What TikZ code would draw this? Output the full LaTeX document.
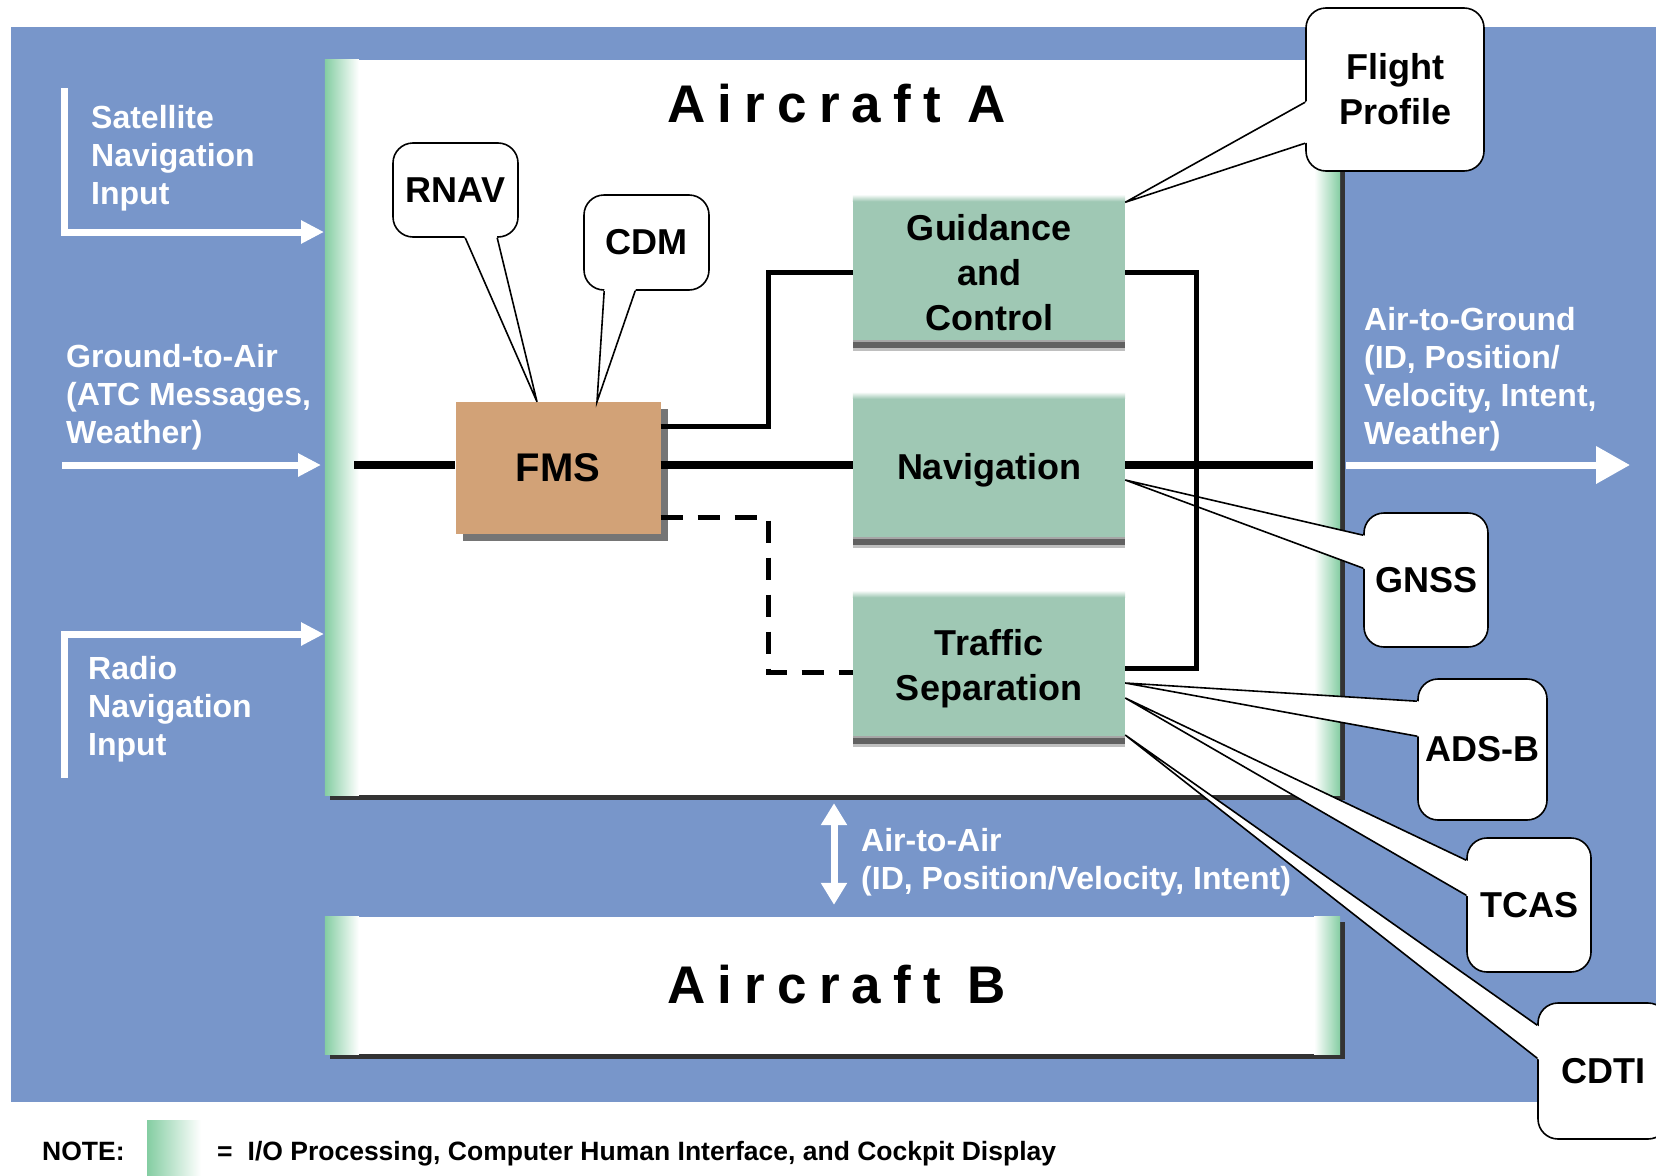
\documentclass[tikz,border=0pt]{standalone}
\usepackage{fontspec}
\setmainfont{Liberation Sans}
\newfontfamily\spacedfont{Liberation Sans}[LetterSpace=23]
\usetikzlibrary{arrows.meta,calc,shadows}

\definecolor{bgblue}{HTML}{7896CA}
\definecolor{mint}{HTML}{84CDA2}
\definecolor{sage}{HTML}{9FC8B4}
\definecolor{fmstan}{HTML}{D2A277}

% white tail of a speech bubble: base point, tip, base point
\newcommand{\calloutTail}[3]{%
  \fill[white] ($(#1)!-4pt!(#2)$) -- (#2) -- ($(#3)!-4pt!(#2)$) -- cycle;
  \draw[line width=1.6pt] (#1) -- (#2) -- (#3);}

\tikzset{
  acbox/.style={fill=white, inner sep=0,
    drop shadow={shadow xshift=5pt, shadow yshift=-5pt, fill=black!80, opacity=1}},
  actitle/.style={font=\spacedfont\bfseries\fontsize{53}{60}\selectfont, inner sep=0, anchor=base west},
  wlabel/.style={text=white, font=\bfseries\fontsize{32}{38}\selectfont, align=left, inner sep=0, anchor=north west},
  warrow/.style={white, line width=7pt, line join=miter, -{Triangle[length=23pt,width=22pt]}},
  sbox/.style={fill=sage, minimum width=272pt, minimum height=156pt, inner sep=0, align=center,
    font=\bfseries\fontsize{36}{45}\selectfont},
  fmsbox/.style={fill=fmstan, minimum width=205pt, minimum height=132pt, inner sep=0,
    font=\bfseries\fontsize{40}{48}\selectfont,
    drop shadow={shadow xshift=7pt, shadow yshift=-7pt, fill=black!60, opacity=0.9}},
  bubble/.style={draw, fill=white, line width=1.6pt, rounded corners=20pt, inner sep=0, align=center,
    font=\bfseries\fontsize{36}{45}\selectfont},
  mainbus/.style={line width=7.5pt},
  link/.style={line width=5pt, line join=miter},
  note/.style={font=\bfseries\fontsize{26.5}{30}\selectfont, inner sep=0, anchor=base west}
}

\begin{document}
\begin{tikzpicture}[x=1pt, y=-1pt]
    \useasboundingbox (0,0) rectangle (1656,1175);

    % Background
    \fill[bgblue] (11,27) rectangle (1656,1102);

    % Aircraft
    \node[acbox, minimum width=1015pt, minimum height=735pt] (acA) at (832.5,427.5) {};
    \node[acbox, minimum width=1015pt, minimum height=137pt] (acB) at (832.5,985.5) {};
    \foreach \ac in {acA,acB} {
        \shade[left color=mint, right color=white] (\ac.north west) rectangle ([xshift=34pt]\ac.south west);
        \shade[left color=white, right color=mint] ([xshift=-26pt]\ac.north east) rectangle (\ac.south east);
    }
    \node[actitle] (titleA) at (667,122) {Aircraft A};
    \node[actitle] (titleB) at (667,1003) {Aircraft B};

    % Inputs and outputs
    \coordinate (satS) at (64,88);   \coordinate (satT) at (324,232);
    \coordinate (gndS) at (62,465);  \coordinate (gndT) at (321,465);
    \coordinate (radS) at (64,778);  \coordinate (radT) at (324,634);
    \coordinate (agS) at (1346,465); \coordinate (agT) at (1630,465);
    \draw[warrow] (satS) |- (satT);
    \draw[warrow] (gndS) -- (gndT);
    \draw[warrow] (radS) |- (radT);
    \draw[warrow, -{Triangle[length=34pt,width=36pt]}] (agS) -- (agT);
    \draw[warrow, {Triangle[length=22pt,width=25pt]}-{Triangle[length=22pt,width=25pt]},
          shorten <=8pt, shorten >=12pt] ([xshift=1.5pt]acA.south) -- ([xshift=1.5pt]acB.north);

    \node[wlabel] (satlbl) at (91,105) {Satellite\\Navigation\\Input};
    \node[wlabel] (gndlbl) at (66,344) {Ground-to-Air\\(ATC Messages,\\Weather)};
    \node[wlabel] (radlbl) at (88,656) {Radio\\Navigation\\Input};
    \node[wlabel] (aglbl) at (1364,307) {Air-to-Ground\\(ID, Position/\\Velocity, Intent,\\Weather)};
    \node[wlabel] (aalbl) at (861,828) {Air-to-Air\\(ID, Position/Velocity, Intent)};

    % Functions
    \node[fmsbox] (fms) at (558,468) {FMS};
    \node[sbox] (guid) at (989,272.5) {Guidance\\and\\Control};
    \node[sbox] (nav) at (989,470) {Navigation};
    \node[sbox] (traf) at (989,668.5) {Traffic\\Separation};
    \foreach \b in {guid,nav,traf} {
        \shade[top color=white, bottom color=sage] (\b.north west) rectangle ([yshift=-7pt]\b.north east);
        \fill[black!35] ([yshift=11pt]\b.south west) rectangle ([yshift=9pt]\b.south east);
        \fill[black!62] ([yshift=9pt]\b.south west) rectangle ([yshift=3pt]\b.south east);
        \fill[black!25] ([yshift=3pt]\b.south west) rectangle (\b.south east);
    }

    % Bubbles
    \node[bubble, minimum width=125pt, minimum height=94pt] (rnav) at (455.5,190) {RNAV};
    \node[bubble, minimum width=125pt, minimum height=95pt] (cdm) at (646.5,242.5) {CDM};
    \node[bubble, minimum width=178pt, minimum height=163pt] (fprof) at (1395,89.5) {Flight\\Profile};
    \node[bubble, minimum width=124pt, minimum height=134pt] (gnss) at (1426,580) {GNSS};
    \node[bubble, minimum width=129pt, minimum height=141pt] (adsb) at (1482.5,749.5) {ADS-B};
    \node[bubble, minimum width=124pt, minimum height=134pt] (tcas) at (1529,905) {TCAS};
    \node[bubble, minimum width=130pt, minimum height=136pt] (cdti) at (1603,1071) {CDTI};

    \coordinate (rnavA) at ([xshift=73pt]rnav.south west);
    \coordinate (rnavB) at ([xshift=105pt]rnav.south west);
    \coordinate (rnavP) at ([xshift=-21pt]fms.north);
    \coordinate (cdmA) at ([xshift=21pt]cdm.south west);
    \coordinate (cdmB) at ([xshift=52pt]cdm.south west);
    \coordinate (cdmP) at ([xshift=39pt]fms.north);
    \coordinate (fpA) at ([yshift=-95pt]fprof.north west);
    \coordinate (fpB) at ([yshift=-136pt]fprof.north west);
    \coordinate (fpP) at ([yshift=-8pt]guid.north east);
    \coordinate (gnA) at ([yshift=-23pt]gnss.north west);
    \coordinate (gnB) at ([yshift=-56pt]gnss.north west);
    \coordinate (gnP) at ([yshift=-10pt]nav.east);
    \coordinate (adA) at ([yshift=-23pt]adsb.north west);
    \coordinate (adB) at ([yshift=-58pt]adsb.north west);
    \coordinate (adP) at ([yshift=-14.5pt]traf.east);
    \coordinate (tcA) at ([yshift=-23pt]tcas.north west);
    \coordinate (tcB) at ([yshift=-58pt]tcas.north west);
    \coordinate (tcP) at ([yshift=-29.5pt]traf.east);
    \coordinate (cdA) at ([yshift=-23pt]cdti.north west);
    \coordinate (cdB) at ([yshift=-56pt]cdti.north west);
    \coordinate (cdP) at ([yshift=-66.5pt]traf.east);
    \foreach \a/\p/\b in {rnavA/rnavP/rnavB, cdmA/cdmP/cdmB, fpA/fpP/fpB, gnA/gnP/gnB,
                          adA/adP/adB, tcA/tcP/tcB, cdA/cdP/cdB}
        \calloutTail{\a}{\p}{\b};

    % Connections
    \coordinate (lstub) at (354,465);
    \coordinate (rstub) at (1313,465);
    \coordinate (jog) at (768,465);
    \coordinate (bus) at (1196,465);
    \coordinate (dashend) at ([yshift=-3.5pt]traf.west);
    \draw[mainbus] (lstub) -- (lstub -| fms.west);
    \draw[mainbus] (fms.east |- lstub) -- (nav.west |- lstub);
    \draw[mainbus] (nav.east |- lstub) -- (rstub);
    \draw[link] ([yshift=42pt]fms.east) -| (jog |- guid.west) -- (guid.west);
    \draw[link] (guid.east) -| (bus |- traf.east) -- (traf.east);
    \draw[link, dash pattern=on 22pt off 15pt] ([yshift=-49pt]fms.east) -| (jog |- dashend) -- (dashend);

    % Note
    \node[note] (notelbl) at (42,1160) {NOTE:};
    \shade[left color=mint, right color=white] (147,1120) rectangle (201,1178);
    \node[note] (notetxt) at (217,1160) {=\hspace{15pt}I/O Processing, Computer Human Interface, and Cockpit Display};

\end{tikzpicture}
\end{document}
